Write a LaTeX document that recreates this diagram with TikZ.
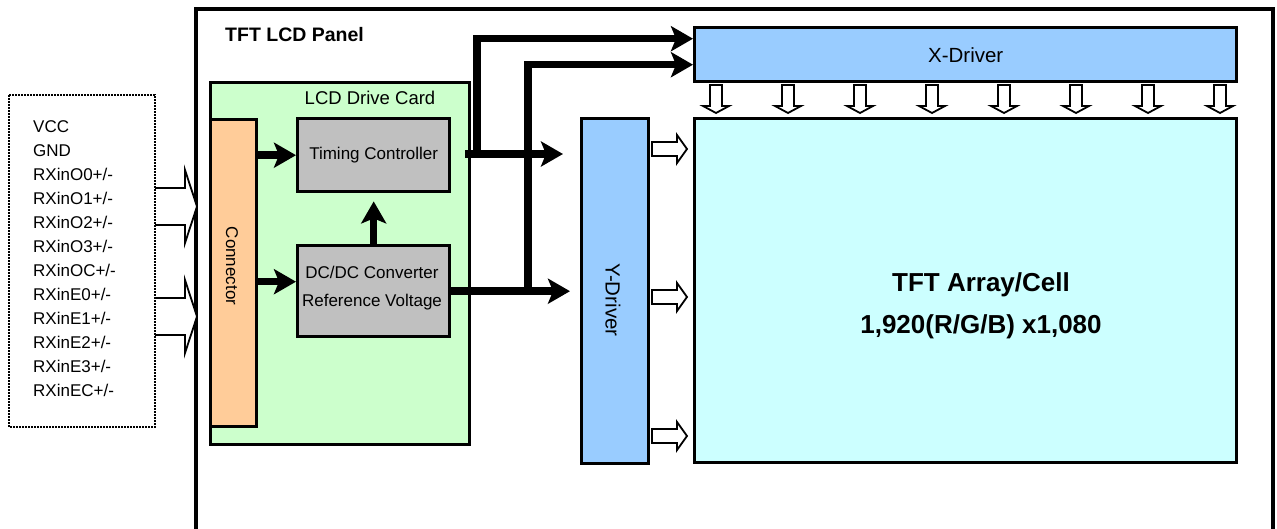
\documentclass[tikz,border=0pt]{standalone}
\usepackage{fontspec}
\setmainfont{Liberation Sans}
\usepackage{tikz}
\usetikzlibrary{arrows.meta,positioning,calc}

\definecolor{cardgreen}{HTML}{CCFFCC}
\definecolor{connorange}{HTML}{FFCC99}
\definecolor{chipgray}{HTML}{C0C0C0}
\definecolor{driverblue}{HTML}{99CCFF}
\definecolor{arraycyan}{HTML}{CCFFFF}

\begin{document}
\begin{tikzpicture}[
    x=1pt, y=-1pt,
    box/.style={draw, line width=3.4pt, anchor=north west, inner sep=0pt},
    txt/.style={font=\fontsize{17}{24}\selectfont, inner sep=0pt},
    drvtxt/.style={font=\fontsize{20.5}{24}\selectfont, inner sep=0pt},
    bigtxt/.style={font=\fontsize{26}{42}\selectfont\bfseries, inner sep=0pt, align=center},
    thick arrow/.style={line width=7.5pt, -{Stealth[length=22pt, width=25pt, inset=5pt]}},
    hollow right/.pic={\draw[line width=1.8pt, fill=white]
        (-17.5,-7) -- (7.5,-7) -- (7.5,-14) -- (17.5,0) -- (7.5,14) -- (7.5,7) -- (-17.5,7) -- cycle;},
    hollow down/.pic={\draw[line width=1.8pt, fill=white]
        (-6,-14) -- (6,-14) -- (6,7) -- (13,7) -- (0,14) -- (-13,7) -- (-6,7) -- cycle;},
    input arrow/.pic={\draw[line width=1.8pt, fill=white]
        (-21,-18.5) -- (9,-18.5) -- (9,-36.5) -- (21,0) -- (9,36.5) -- (9,18.5) -- (-21,18.5);}
]
\useasboundingbox (0,0) rectangle (1277,529);

% outer panel, open at the bottom
\draw[line width=3.2pt] (196,529) -- (196,9) -- (1273,9) -- (1273,529);
\node[font=\fontsize{19.5}{20}\selectfont\bfseries, anchor=west, inner sep=0pt] (panel_lbl) at (225,35) {TFT LCD Panel};

% input signals
\pic at (176,206.5) {input arrow};
\pic at (176,316.5) {input arrow};
\draw[line width=2pt, densely dotted, fill=white] (9,95) rectangle (155,427);
\node[txt, align=left, anchor=west] (signals) at (33,259) {VCC\\GND\\RXinO0+/-\\RXinO1+/-\\RXinO2+/-\\RXinO3+/-\\RXinOC+/-\\RXinE0+/-\\RXinE1+/-\\RXinE2+/-\\RXinE3+/-\\RXinEC+/-};

% LCD drive card
\node[box, fill=cardgreen, minimum width=259pt, minimum height=362pt] (card) at (209,81) {};
\node[txt, font=\fontsize{18.5}{24}\selectfont] (card_lbl) at (370,98) {LCD Drive Card};
\node[box, fill=connorange, minimum width=46pt, minimum height=307pt] (conn) at (209,118) {};
\node[txt, rotate=-90] (conn_lbl) at (232,266) {Connector};
\node[box, fill=chipgray, minimum width=152pt, minimum height=73pt] (timing) at (296,117) {};
\node[txt] (timing_lbl) at (timing.center) {Timing Controller};
\node[box, fill=chipgray, minimum width=152pt, minimum height=91pt] (dcdc) at (296,244) {};
\node[txt, align=center, font=\fontsize{17}{28}\selectfont] (dcdc_lbl) at (372,288) {DC/DC Converter\\Reference Voltage};

% drivers and array
\node[box, fill=driverblue, minimum width=542pt, minimum height=54pt] (xdrv) at (693,26) {};
\node[drvtxt] (xdrv_lbl) at (xdrv.center) {X-Driver};
\node[box, fill=driverblue, minimum width=67pt, minimum height=345pt] (ydrv) at (580,117) {};
\node[drvtxt, rotate=-90] (ydrv_lbl) at (613,300) {Y-Driver};
\node[box, fill=arraycyan, minimum width=542pt, minimum height=344pt] (array) at (693,117) {};
\node[bigtxt] (array_lbl) at (981,306) {TFT Array/Cell\\1,920(R/G/B) x1,080};

% signal flow
\draw[thick arrow] (conn.east |- timing.west) -- (timing.west);
\draw[thick arrow] ([yshift=9.5pt]conn.east |- dcdc.west) -- ([yshift=9.5pt]dcdc.west);
\draw[thick arrow, shorten >=8pt] (dcdc.north) -- (timing.south);

\coordinate (tc_out) at (465,154);
\coordinate (tc_bend) at (477,154);
\coordinate (dc_bend) at (528,289.5);
\draw[thick arrow] (tc_out) -- ([xshift=-17pt]ydrv.west |- tc_out);
\draw[thick arrow] (tc_bend) |- ([yshift=16pt]xdrv.west);
\draw[thick arrow] (dcdc.east) -- ([xshift=-10pt]ydrv.west |- dcdc.east);
\draw[thick arrow] (dc_bend) |- ([yshift=-10pt]xdrv.west);

% X-driver to array
\pic at (716,99) {hollow down};
\pic at (788,99) {hollow down};
\pic at (860,99) {hollow down};
\pic at (932,99) {hollow down};
\pic at (1004,99) {hollow down};
\pic at (1076,99) {hollow down};
\pic at (1148,99) {hollow down};
\pic at (1220,99) {hollow down};

% Y-driver to array
\pic at (669.5,149) {hollow right};
\pic at (669.5,297) {hollow right};
\pic at (669.5,436) {hollow right};

\end{tikzpicture}
\end{document}
